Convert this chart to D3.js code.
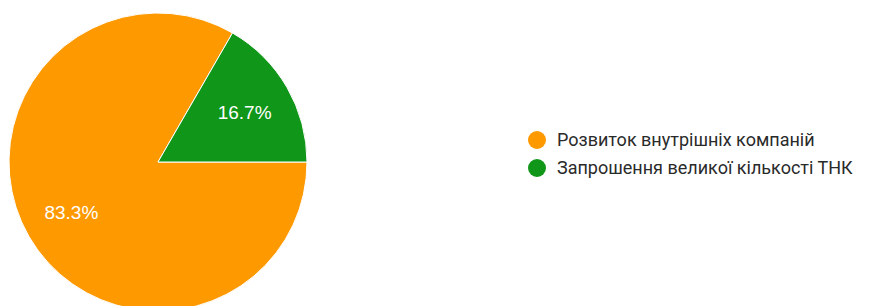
<!DOCTYPE html>
<html>
<head>
<meta charset="utf-8">
<script src="https://cdn.jsdelivr.net/npm/d3@7"></script>
<style>
  body { margin: 0; background: #fff; }
  svg { display: block; }
</style>
</head>
<body>
<div id="chart"></div>
<script>
// answers in legend order
const categories = ["Розвиток внутрішніх компаній", "Запрошення великої кількості ТНК"];
const values = [5, 1];
const colors = ["#ff9900", "#109618"];

const width = 879, height = 306;
const cx = 158, cy = 162, radius = 149;

const svg = d3.select("#chart")
  .append("svg")
  .attr("width", width)
  .attr("height", height);

const total = d3.sum(values);

// orange starts at 3 o'clock and runs clockwise
const pie = d3.pie()
  .sort(null)
  .startAngle(Math.PI / 2)
  .endAngle(Math.PI / 2 + 2 * Math.PI);

const arcs = pie(values);

const arc = d3.arc().innerRadius(0).outerRadius(radius);
const labelArc = d3.arc().innerRadius(100).outerRadius(100);

const g = svg.append("g")
  .attr("transform", "translate(" + cx + "," + cy + ")");

g.selectAll("path")
  .data(arcs)
  .enter()
  .append("path")
  .attr("d", arc)
  .attr("fill", (d, i) => colors[i])
  .attr("stroke", "#fff")
  .attr("stroke-width", 1);

g.selectAll("text")
  .data(arcs)
  .enter()
  .append("text")
  .attr("transform", d => "translate(" + labelArc.centroid(d) + ")")
  .attr("text-anchor", "middle")
  .attr("dy", "0.36em")
  .attr("fill", "#fff")
  .style("font-family", "'Liberation Sans', Arial, sans-serif")
  .style("font-size", "19px")
  .text(d => (d.value / total * 100).toFixed(1) + "%");

const legend = svg.append("g")
  .attr("transform", "translate(537,140)");

const item = legend.selectAll("g")
  .data(categories)
  .enter()
  .append("g")
  .attr("transform", (d, i) => "translate(0," + i * 28 + ")");

item.append("circle")
  .attr("r", 9)
  .attr("fill", (d, i) => colors[i]);

item.append("text")
  .attr("x", 20)
  .attr("dy", "0.36em")
  .attr("fill", "#2a2a2a")
  .style("font-family", "Roboto, Arial, sans-serif")
  .style("font-size", "18px")
  .text(d => d);
</script>
</body>
</html>
